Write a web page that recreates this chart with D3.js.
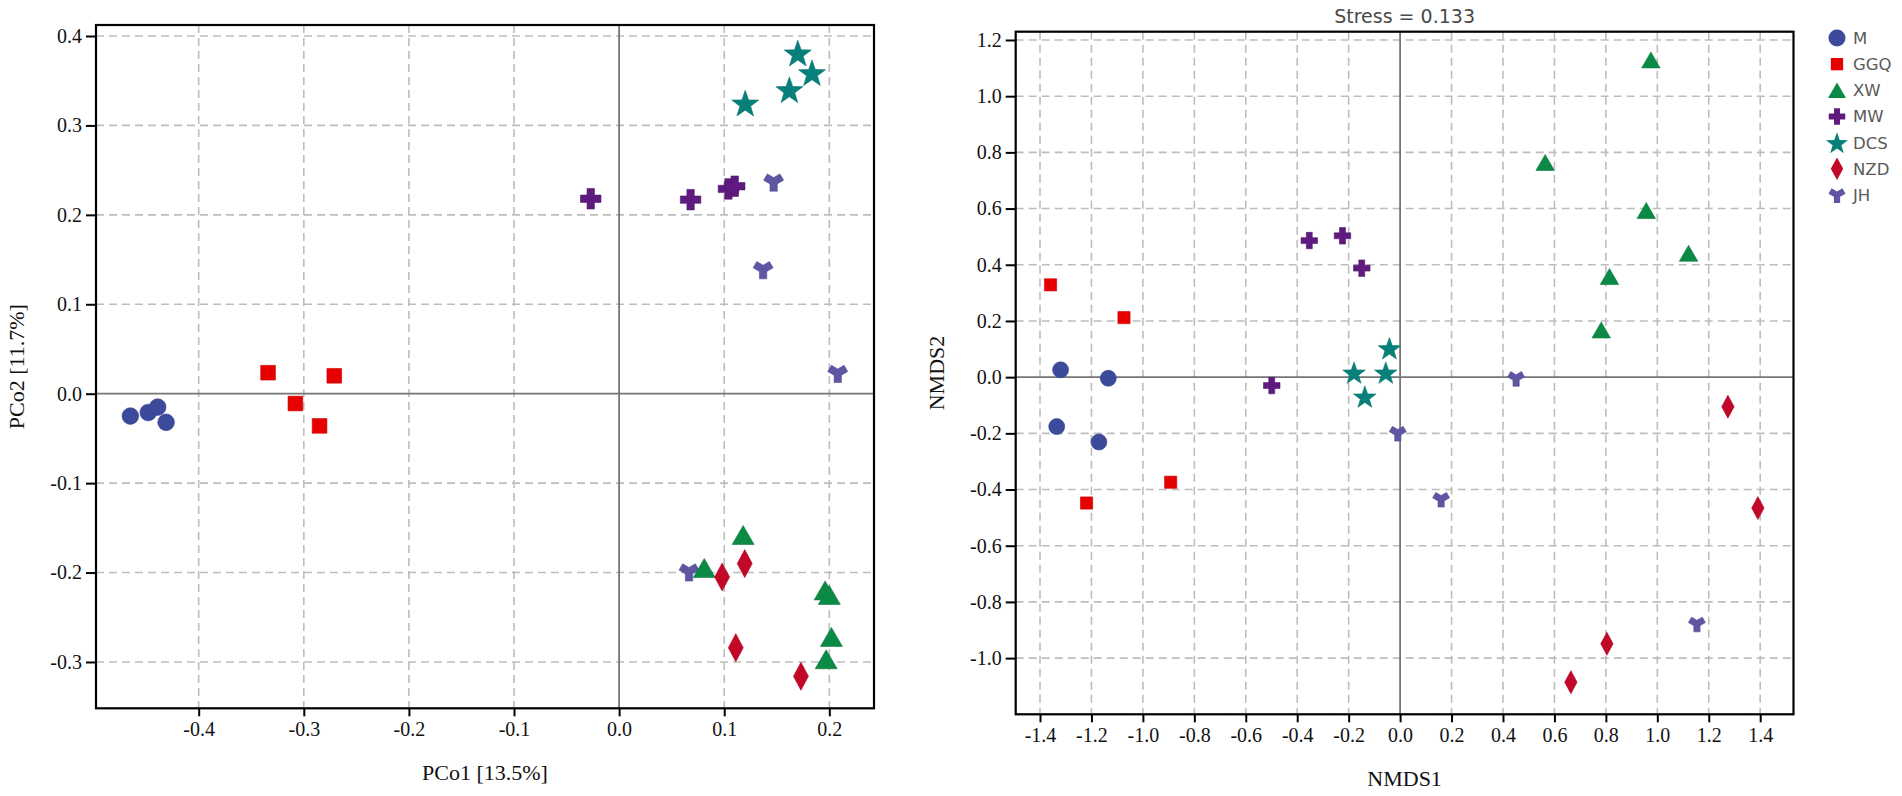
<!DOCTYPE html>
<html>
<head>
<meta charset="utf-8">
<script src="https://cdn.jsdelivr.net/npm/d3@7"></script>
<style>
  html, body { margin: 0; padding: 0; background: #fff; }
  svg { display: block; }
</style>
</head>
<body>
<svg id="chart" width="1902" height="796"></svg>
<script>
// ---------------- DATA ----------------
const groups = ["M", "GGQ", "XW", "MW", "DCS", "NZD", "JH"];

// PCoA (left panel)
const pcoaGroup = ["JH","JH","JH","JH",
                   "M","M","M","M",
                   "GGQ","GGQ","GGQ","GGQ",
                   "XW","XW","XW","XW","XW","XW",
                   "MW","MW","MW","MW",
                   "DCS","DCS","DCS","DCS",
                   "NZD","NZD","NZD","NZD"];
const pcoa1 = [0.147, 0.137, 0.208, 0.0665,
               -0.465, -0.448, -0.439, -0.431,
               -0.334, -0.271, -0.308, -0.285,
               0.118, 0.081, 0.196, 0.200, 0.202, 0.197,
               -0.027, 0.068, 0.104, 0.110,
               0.170, 0.1835, 0.162, 0.120,
               0.1195, 0.098, 0.111, 0.173];
const pcoa2 = [0.237, 0.139, 0.023, -0.199,
               -0.025, -0.021, -0.015, -0.032,
               0.0235, 0.020, -0.011, -0.036,
               -0.158, -0.195, -0.220, -0.225, -0.272, -0.297,
               0.218, 0.217, 0.229, 0.232,
               0.381, 0.359, 0.340, 0.325,
               -0.190, -0.205, -0.284, -0.316];
const pcoaXTicks = [-0.4, -0.3, -0.2, -0.1, 0.0, 0.1, 0.2];
const pcoaYTicks = [-0.3, -0.2, -0.1, 0.0, 0.1, 0.2, 0.3, 0.4];
const pcoaXDomain = [-0.4977, 0.2425];
const pcoaYDomain = [-0.3518, 0.4123];
const pcoaXLabel = "PCo1 [13.5%]";
const pcoaYLabel = "PCo2 [11.7%]";

// NMDS (right panel)
const nmdsGroup = ["JH","JH","JH","JH",
                   "M","M","M","M",
                   "GGQ","GGQ","GGQ","GGQ",
                   "XW","XW","XW","XW","XW","XW",
                   "MW","MW","MW","MW",
                   "DCS","DCS","DCS","DCS",
                   "NZD","NZD","NZD","NZD"];
const nmds1 = [0.451, -0.009, 0.1595, 1.154,
               -1.320, -1.1345, -1.335, -1.171,
               -1.359, -1.0735, -1.219, -0.892,
               0.975, 0.564, 0.957, 1.1215, 0.814, 0.782,
               -0.353, -0.224, -0.149, -0.499,
               -0.0415, -0.0557, -0.179, -0.137,
               1.2745, 1.391, 0.804, 0.664];
const nmds2 = [-0.004, -0.199, -0.434, -0.878,
               0.026, -0.004, -0.176, -0.231,
               0.3285, 0.212, -0.448, -0.374,
               1.129, 0.764, 0.593, 0.441, 0.358, 0.168,
               0.486, 0.503, 0.388, -0.030,
               0.103, 0.0164, 0.0164, -0.069,
               -0.105, -0.466, -0.949, -1.0855];
const nmdsXTicks = [-1.4, -1.2, -1.0, -0.8, -0.6, -0.4, -0.2, 0.0, 0.2, 0.4, 0.6, 0.8, 1.0, 1.2, 1.4];
const nmdsYTicks = [-1.0, -0.8, -0.6, -0.4, -0.2, 0.0, 0.2, 0.4, 0.6, 0.8, 1.0, 1.2];
const nmdsGridY = [-1.2, -1.0, -0.8, -0.6, -0.4, -0.2, 0.0, 0.2, 0.4, 0.6, 0.8, 1.0, 1.2];
const nmdsXDomain = [-1.4945, 1.5295];
const nmdsYDomain = [-1.2, 1.2295];
const nmdsXLabel = "NMDS1";
const nmdsYLabel = "NMDS2";
const stressText = "Stress = 0.133";

// ---------------- STYLE ----------------
const colors = {
  M: "#3B4A9B", GGQ: "#E60000", XW: "#0B8A45", MW: "#5E1A7E",
  DCS: "#07807A", NZD: "#C10828", JH: "#5E56A2"
};
const SERIF = "'Liberation Serif', 'Times New Roman', serif";
const SANS = "'DejaVu Sans', sans-serif";

// marker pixel dimensions per panel
const sizesLeft = { M: 16.7, GGQ: 14.7, XW: [22, 19], MW: 20.5, DCS: 27, NZD: [15, 28], JH: 20 };
const sizesRight = { M: 16, GGQ: 12.2, XW: [18.5, 16], MW: 16.5, DCS: 22.5, NZD: [12.4, 23], JH: 17 };
const sizesLegend = { M: 17, GGQ: 12.3, XW: [18, 15.5], MW: 16.5, DCS: 22, NZD: [12.4, 22.5], JH: 17 };

function markerPath(group, S) {
  const p = d3.path();
  const v = S[group];
  if (group === "M") {
    const r = v / 2;
    p.moveTo(r, 0); p.arc(0, 0, r, 0, 2 * Math.PI); p.closePath();
  } else if (group === "GGQ") {
    const s = v / 2;
    p.rect(-s, -s, 2 * s, 2 * s);
  } else if (group === "XW") {
    const w = v[0] / 2, h = v[1] / 2;
    p.moveTo(0, -h); p.lineTo(w, h); p.lineTo(-w, h); p.closePath();
  } else if (group === "MW") {
    const a = v / 2, t = v * 0.18;
    p.moveTo(-t, -a); p.lineTo(t, -a); p.lineTo(t, -t); p.lineTo(a, -t);
    p.lineTo(a, t); p.lineTo(t, t); p.lineTo(t, a); p.lineTo(-t, a);
    p.lineTo(-t, t); p.lineTo(-a, t); p.lineTo(-a, -t); p.lineTo(-t, -t); p.closePath();
  } else if (group === "DCS") {
    const R = v / (2 * 0.951), ri = R * 0.4;
    for (let i = 0; i < 10; i++) {
      const ang = -Math.PI / 2 + i * Math.PI / 5;
      const rr = i % 2 === 0 ? R : ri;
      const x = rr * Math.cos(ang), y = rr * Math.sin(ang) + R * 0.1;
      if (i === 0) p.moveTo(x, y); else p.lineTo(x, y);
    }
    p.closePath();
  } else if (group === "NZD") {
    const w = v[0] / 2, h = v[1] / 2;
    p.moveTo(0, -h); p.lineTo(w, 0); p.lineTo(0, h); p.lineTo(-w, 0); p.closePath();
  } else if (group === "JH") {
    const r = v / 2.732;
    return d3.symbol(d3.symbolWye, r * r * 3.433)();
  }
  return p.toString();
}

const svg = d3.select("#chart");

function fmt(v) { return v.toFixed(1); }

function panel(cfg) {
  const { left, right, top, bottom } = cfg;
  const x = d3.scaleLinear().domain(cfg.xDomain).range([left, right]);
  const y = d3.scaleLinear().domain(cfg.yDomain).range([bottom, top]);
  const g = svg.append("g");

  // grid
  const gridColor = "#bdbdbd";
  g.append("g").selectAll("line").data(cfg.xTicks.filter(v => Math.abs(v) > 1e-9)).join("line")
    .attr("x1", d => x(d)).attr("x2", d => x(d)).attr("y1", top).attr("y2", bottom)
    .attr("stroke", gridColor).attr("stroke-width", 1.6).attr("stroke-dasharray", "8,5");
  g.append("g").selectAll("line").data(cfg.yGrid.filter(v => Math.abs(v) > 1e-9)).join("line")
    .attr("x1", left).attr("x2", right).attr("y1", d => y(d)).attr("y2", d => y(d))
    .attr("stroke", gridColor).attr("stroke-width", 1.6).attr("stroke-dasharray", "8,5");
  // zero lines
  g.append("line").attr("x1", x(0)).attr("x2", x(0)).attr("y1", top).attr("y2", bottom)
    .attr("stroke", "#767676").attr("stroke-width", 1.8);
  g.append("line").attr("x1", left).attr("x2", right).attr("y1", y(0)).attr("y2", y(0))
    .attr("stroke", "#767676").attr("stroke-width", 1.8);

  // axes
  const ax = g.append("g").attr("transform", `translate(0,${bottom})`)
    .call(d3.axisBottom(x).tickValues(cfg.xTicks).tickFormat(fmt).tickSize(8).tickSizeOuter(0).tickPadding(6));
  const ay = g.append("g").attr("transform", `translate(${left},0)`)
    .call(d3.axisLeft(y).tickValues(cfg.yTicks).tickFormat(fmt).tickSize(10).tickSizeOuter(0).tickPadding(4));
  [ax, ay].forEach(a => {
    a.attr("font-family", SERIF).attr("font-size", 20);
    a.select(".domain").remove();
    a.selectAll(".tick line").attr("stroke", "#000").attr("stroke-width", 2);
    a.selectAll(".tick text").attr("font-family", SERIF).attr("font-size", 20).attr("fill", "#111");
  });

  // points
  g.append("g").selectAll("path").data(cfg.g.map((grp, i) => ({ grp, a: cfg.a[i], b: cfg.b[i] }))).join("path")
    .attr("d", d => markerPath(d.grp, cfg.sizes))
    .attr("transform", d => `translate(${x(d.a)},${y(d.b)})`)
    .attr("fill", d => colors[d.grp])
    .attr("stroke", d => d3.color(colors[d.grp]).darker(0.3))
    .attr("stroke-width", 0.6);

  // frame
  g.append("rect").attr("x", left).attr("y", top).attr("width", right - left).attr("height", bottom - top)
    .attr("fill", "none").attr("stroke", "#000").attr("stroke-width", 2.2);

  // labels
  g.append("text").attr("x", (left + right) / 2).attr("y", bottom + 72)
    .attr("text-anchor", "middle").attr("font-family", SERIF).attr("font-size", 22).attr("fill", "#111")
    .text(cfg.xLabel);
  g.append("text").attr("transform", `translate(${cfg.yLabelX},${(top + bottom) / 2}) rotate(-90)`)
    .attr("text-anchor", "middle").attr("font-family", SERIF).attr("font-size", 22).attr("fill", "#111")
    .text(cfg.yLabel);
  return { x, y };
}

panel({
  left: 96, right: 874, top: 25, bottom: 708.3,
  xDomain: pcoaXDomain, yDomain: pcoaYDomain,
  xTicks: pcoaXTicks, yTicks: pcoaYTicks, yGrid: pcoaYTicks,
  g: pcoaGroup, a: pcoa1, b: pcoa2, sizes: sizesLeft,
  xLabel: pcoaXLabel, yLabel: pcoaYLabel, yLabelX: 24
});

panel({
  left: 1015.7, right: 1793.5, top: 31.7, bottom: 714.3,
  xDomain: nmdsXDomain, yDomain: nmdsYDomain,
  xTicks: nmdsXTicks, yTicks: nmdsYTicks, yGrid: nmdsGridY,
  g: nmdsGroup, a: nmds1, b: nmds2, sizes: sizesRight,
  xLabel: nmdsXLabel, yLabel: nmdsYLabel, yLabelX: 944
});

// stress title
svg.append("text").attr("x", (1015.7 + 1793.5) / 2).attr("y", 23)
  .attr("text-anchor", "middle").attr("font-family", SANS).attr("font-size", 19).attr("fill", "#4a4a4a")
  .text(stressText);

// legend
const legend = svg.append("g");
const ly = d3.scalePoint().domain(groups).range([38, 195]);
legend.selectAll("path").data(groups).join("path")
  .attr("d", d => markerPath(d, sizesLegend))
  .attr("transform", d => `translate(1837,${ly(d)})`)
  .attr("fill", d => colors[d]);
legend.selectAll("text").data(groups).join("text")
  .attr("x", 1853).attr("y", d => ly(d)).attr("dy", "0.36em")
  .attr("font-family", SANS).attr("font-size", 16.5).attr("fill", "#5a5a5a")
  .text(d => d);
</script>
</body>
</html>
